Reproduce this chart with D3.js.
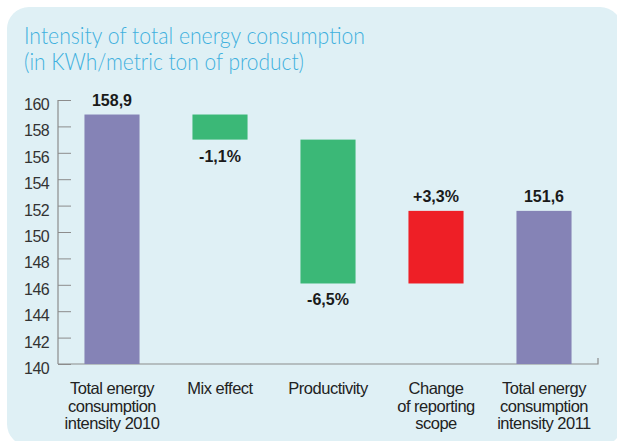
<!DOCTYPE html>
<html>
<head>
<meta charset="utf-8">
<script src="https://cdn.jsdelivr.net/npm/d3@7"></script>
<style>
  html, body { margin: 0; padding: 0; background: #ffffff; }
  svg { display: block; }
</style>
</head>
<body>
<svg id="chart" width="617" height="441"></svg>
<script>
// ---- data ----
const titleLines = ["Intensity of total energy consumption", "(in KWh/metric ton of product)"];
const categories = [
  ["Total energy", "consumption", "intensity 2010"],
  ["Mix effect"],
  ["Productivity"],
  ["Change", "of reporting", "scope"],
  ["Total energy", "consumption", "intensity 2011"]
];
const barStart = [140, 158.9, 157.0, 146.1, 140];
const barEnd   = [158.9, 157.0, 146.1, 151.6, 151.6];
const barLabels = ["158,9", "-1,1%", "-6,5%", "+3,3%", "151,6"];
const barKinds = ["total", "decrease", "decrease", "increase", "total"];
const yTicks = [140, 142, 144, 146, 148, 150, 152, 154, 156, 158, 160];

const colors = { total: "#8583b6", decrease: "#3bb877", increase: "#ee1f26" };

const svg = d3.select("#chart");

// background panel
const px0 = 7, py0 = 7, px1 = 622, py1 = 446, pr = 22;
svg.append("rect")
  .attr("x", px0).attr("y", py0)
  .attr("width", px1 - px0).attr("height", py1 - py0)
  .attr("rx", pr).attr("ry", pr)
  .attr("fill", "#dff0f5");

// title
const titleFont = "Lato, Roboto, 'Liberation Sans', Arial, sans-serif";
const titleLens = [341, 280];
titleLines.forEach((t, i) => {
  svg.append("text")
    .attr("x", 24).attr("y", 44 + i * 26)
    .attr("font-family", titleFont)
    .attr("font-weight", 300)
    .attr("font-size", 22.5)
    .attr("fill", "#3fb0de")
    .attr("textLength", titleLens[i])
    .attr("lengthAdjust", "spacingAndGlyphs")
    .text(t);
});

// scales
const pLeft = 58, pRight = 598, pTop = 100, pBottom = 364;
const x = d3.scaleBand()
  .domain(d3.range(categories.length))
  .range([pLeft, pRight])
  .paddingInner(0.49)
  .paddingOuter(0.245);
const y = d3.scaleLinear().domain([140, 160]).range([pBottom, pTop]);

const font = "'Liberation Sans', Arial, Helvetica, sans-serif";
const axisColor = "#8c8c8c";

// y axis
const yAxis = d3.axisRight(y).tickValues(yTicks).tickSize(13).tickFormat("");
const gy = svg.append("g").attr("transform", `translate(${pLeft},0)`).call(yAxis);
gy.select(".domain").remove();
gy.selectAll(".tick line").attr("stroke", axisColor).attr("stroke-width", 1);
svg.append("line")
  .attr("x1", pLeft).attr("x2", pLeft).attr("y1", pTop).attr("y2", pBottom)
  .attr("stroke", axisColor).attr("stroke-width", 1.2);

svg.append("g").selectAll("text")
  .data(yTicks)
  .join("text")
  .attr("x", pLeft - 9)
  .attr("y", d => y(d) + 10)
  .attr("text-anchor", "end")
  .attr("font-family", font)
  .attr("font-size", 16)
  .attr("letter-spacing", "-0.6")
  .attr("fill", "#333")
  .text(d => d);

// x axis baseline
svg.append("path")
  .attr("d", `M${pLeft},${pBottom}H${pRight}V${pBottom - 6}`)
  .attr("fill", "none")
  .attr("stroke", axisColor)
  .attr("stroke-width", 1.2);

// bars
const idx = d3.range(categories.length);
svg.append("g").selectAll("rect")
  .data(idx)
  .join("rect")
  .attr("x", i => x(i))
  .attr("width", x.bandwidth())
  .attr("y", i => y(Math.max(barStart[i], barEnd[i])))
  .attr("height", i => Math.abs(y(barStart[i]) - y(barEnd[i])))
  .attr("fill", i => colors[barKinds[i]]);

// bar labels
svg.append("g").selectAll("text")
  .data(idx)
  .join("text")
  .attr("x", i => x(i) + x.bandwidth() / 2)
  .attr("y", i => barKinds[i] === "decrease"
      ? y(Math.min(barStart[i], barEnd[i])) + 22
      : y(Math.max(barStart[i], barEnd[i])) - 9)
  .attr("text-anchor", "middle")
  .attr("font-family", font)
  .attr("font-weight", "bold")
  .attr("font-size", 16)
  .attr("fill", "#1a1a1a")
  .text(i => barLabels[i]);

// category labels
const cg = svg.append("g").selectAll("text")
  .data(idx)
  .join("text")
  .attr("text-anchor", "middle")
  .attr("font-family", font)
  .attr("font-size", 16.5)
  .attr("letter-spacing", "-0.5")
  .attr("fill", "#222");
cg.selectAll("tspan")
  .data(i => categories[i].map(line => ({ i, line })))
  .join("tspan")
  .attr("x", d => x(d.i) + x.bandwidth() / 2)
  .attr("y", (d, j) => 394 + j * 17.5)
  .text(d => d.line);
</script>
</body>
</html>
